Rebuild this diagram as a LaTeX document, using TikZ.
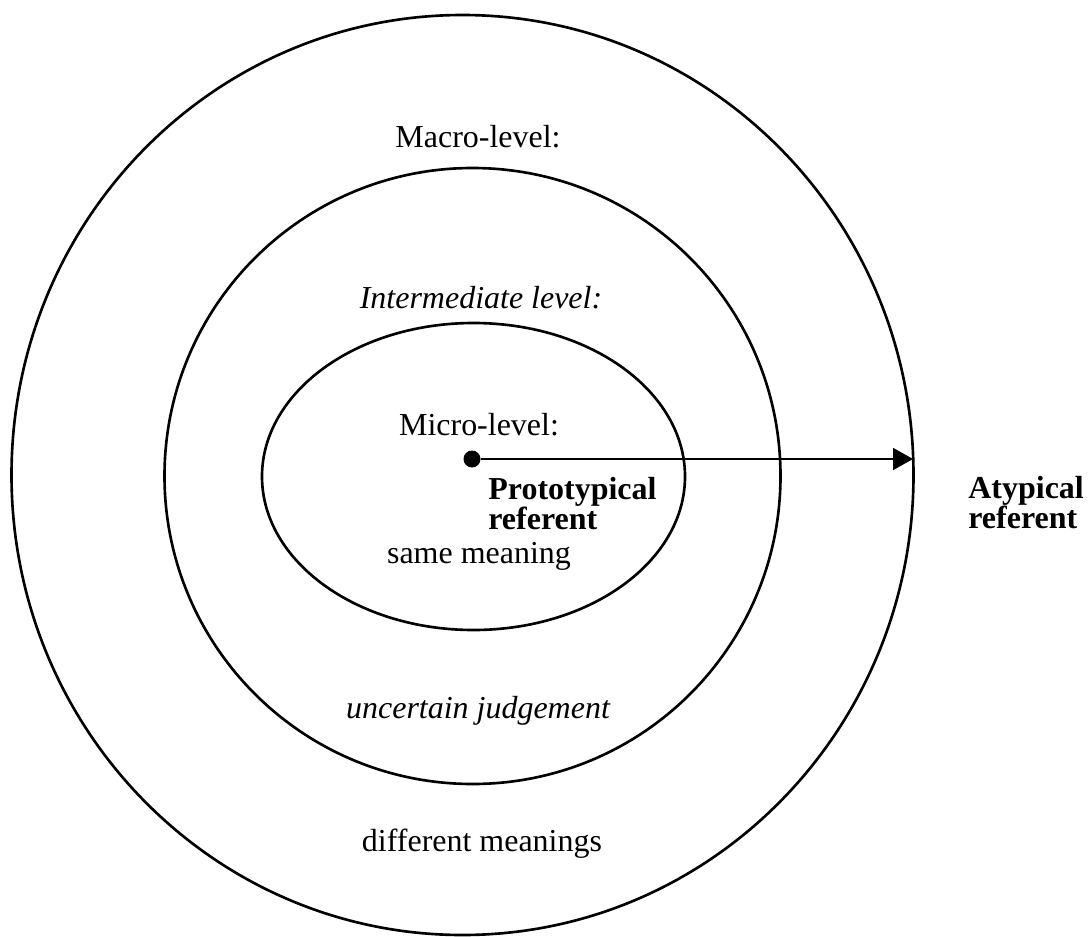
\documentclass[tikz,border=0pt]{standalone}
\usepackage{fontspec}
\setmainfont{Liberation Serif}
\usetikzlibrary{positioning, arrows.meta}
\tikzset {
    ring/.style={line width=1.5pt},
    txt/.style={font=\fontsize{18.2}{17}\selectfont, inner sep=0pt, anchor=base},
    strong/.style={txt, font=\fontsize{18.2}{17}\selectfont\bfseries, align=left, anchor=base west},
    dot/.style={circle, fill=black, inner sep=0pt, minimum size=0.34cm},
    >={Triangle[length=0.4cm, width=0.44cm]}
}

\begin{document}
\begin{tikzpicture}[x=0.02cm, y=-0.02cm]
    \useasboundingbox (0,0) rectangle (1088,936);

    % levels
    \draw[ring] (462.5,475) ellipse [x radius=451, y radius=460];
    \draw[ring] (472.5,476) circle [radius=308];
    \draw[ring] (473.5,476.5) ellipse [x radius=211.5, y radius=153.5];

    \node[txt] (macro) at (478,147) {Macro-level:};
    \node[txt] (inter) at (481,308) {\itshape Intermediate level:};
    \node[txt] (micro) at (479,435) {Micro-level:};
    \node[txt] (same) at (479,563) {same meaning};
    \node[txt] (uncertain) at (478,718) {\itshape uncertain judgement};
    \node[txt] (diff) at (482,851) {different meanings};

    \node[dot] (proto) at (472,459) {};
    \coordinate (rim) at (913,459);
    % base is the last line here
    \node[strong] (protolabel) at (488,529) {Prototypical\\referent};
    \node[strong] (atyp) at (968,528) {Atypical\\referent};

    \draw[->, line width=1.1pt] (proto) -- (rim);
\end{tikzpicture}
\end{document}
